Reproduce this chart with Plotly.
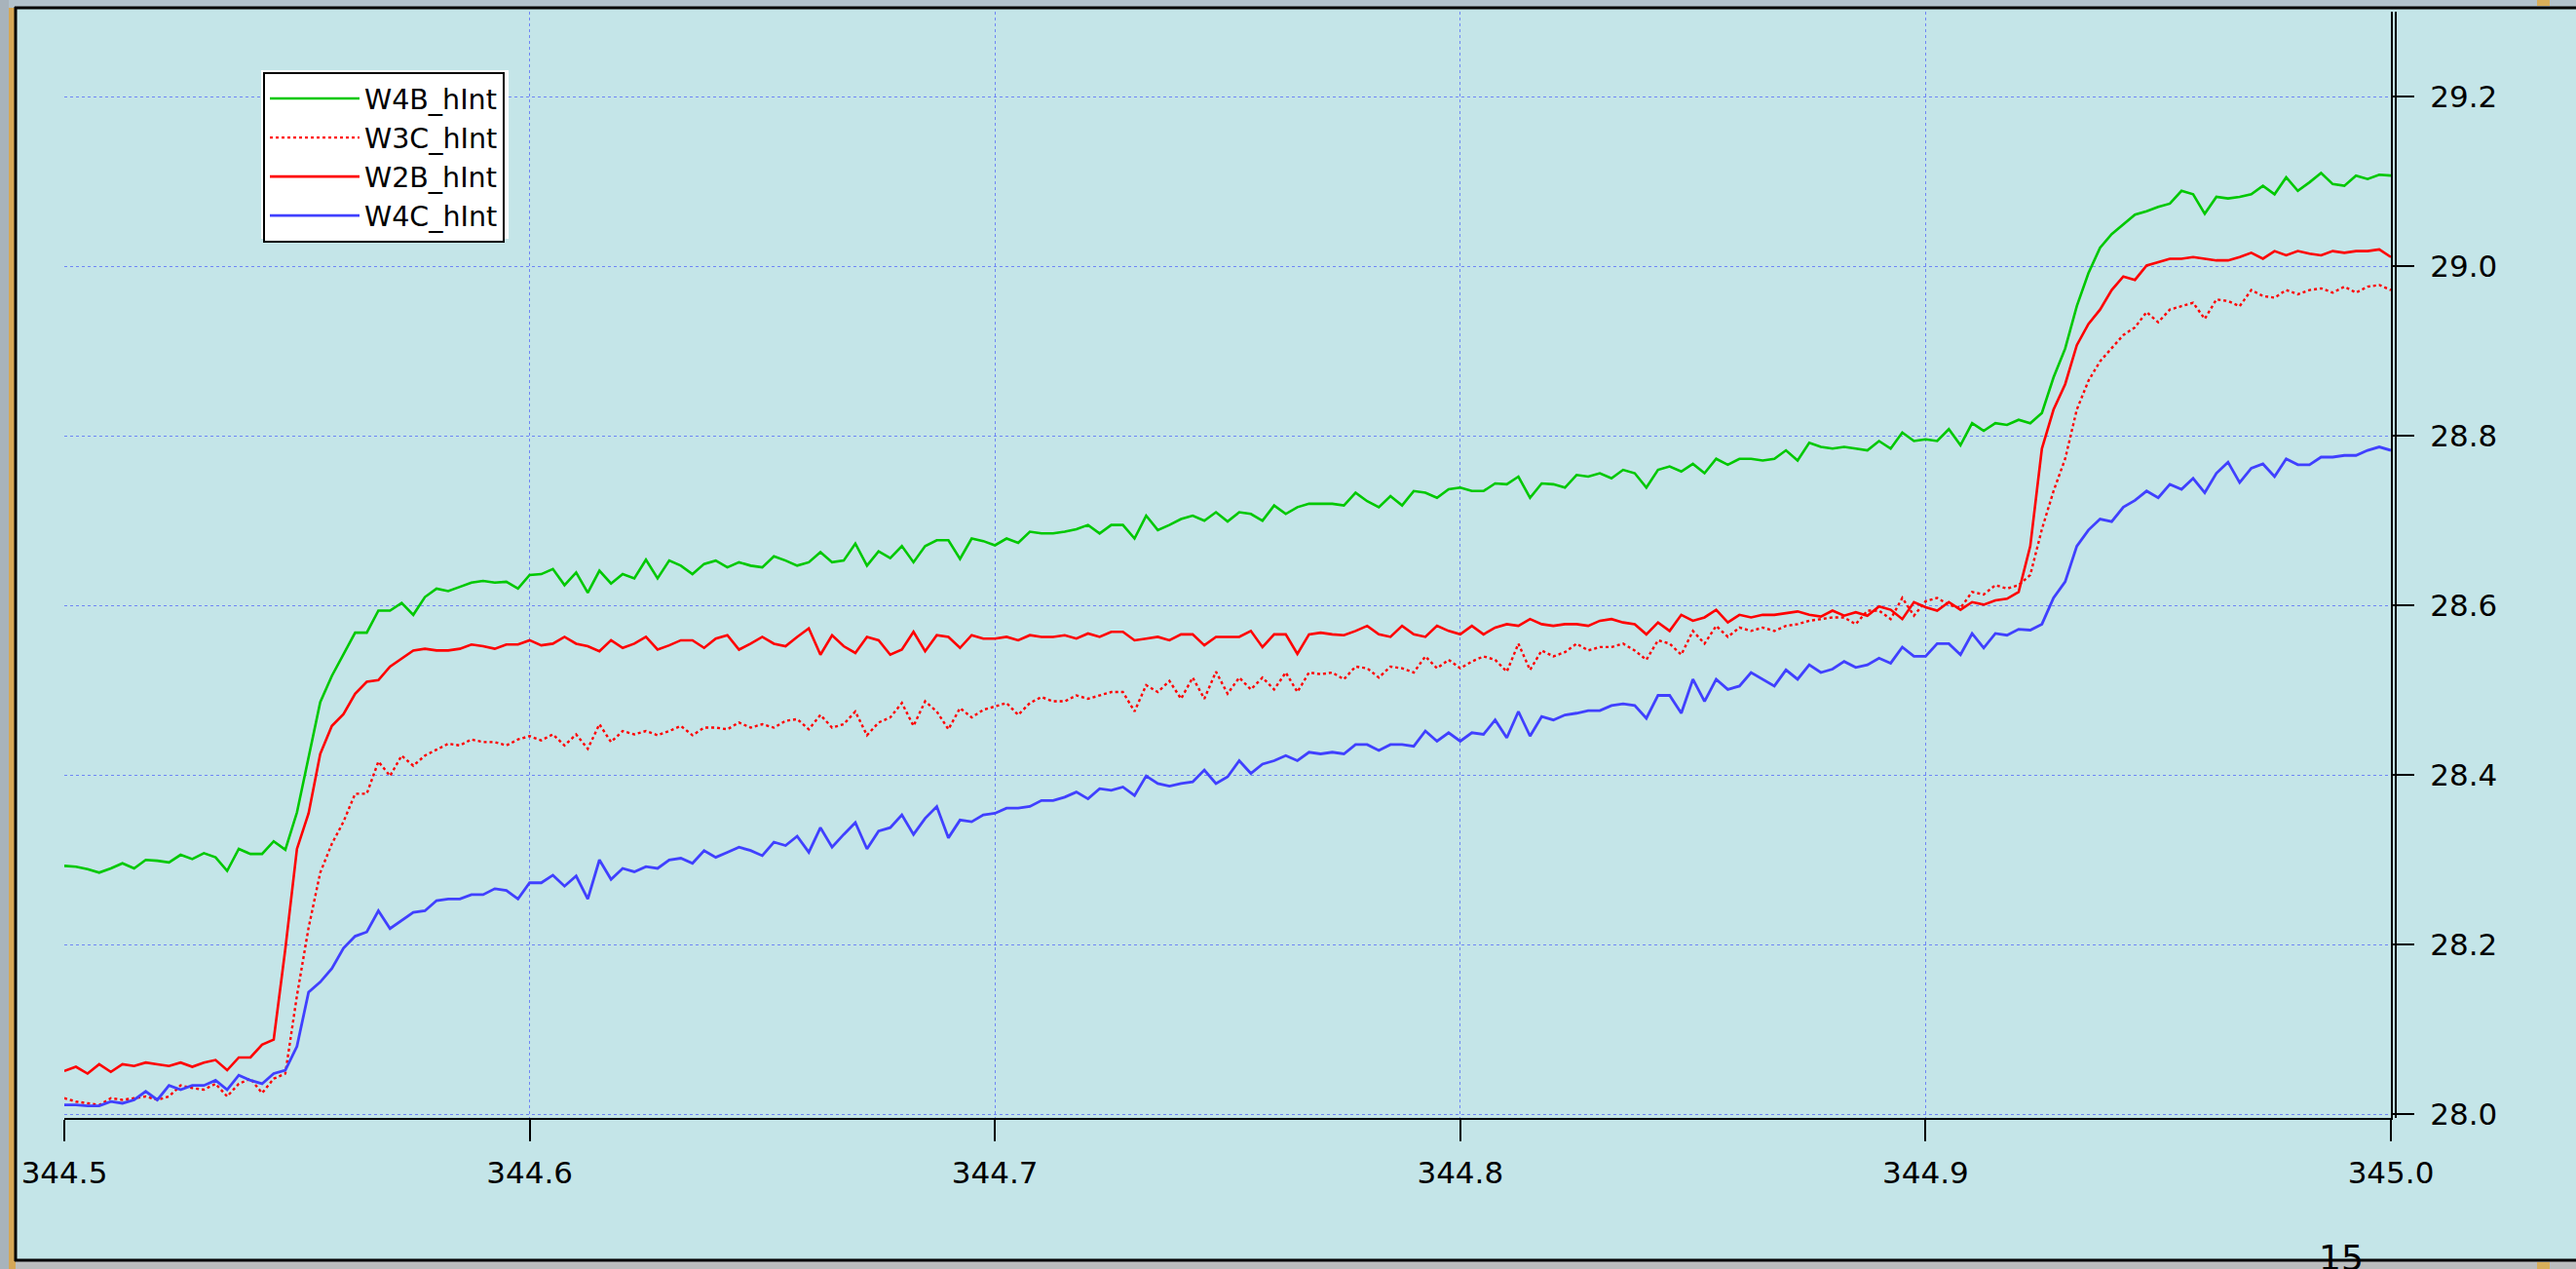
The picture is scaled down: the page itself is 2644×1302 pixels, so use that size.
import plotly.graph_objects as go

# ---- sample times (uniform 0.0025 spacing, 344.5 .. 345.0) ----
T_START = 344.5
T_STEP = 0.0025
N_SAMPLES = 201
t = [round(T_START + T_STEP * i, 4) for i in range(N_SAMPLES)]

# ---- hInt readings for each channel ----
w4b_hint = [
    28.293, 28.292, 28.289, 28.285, 28.290, 28.296, 28.290, 28.300, 28.299, 28.297,
    28.306, 28.301, 28.308, 28.303, 28.287, 28.313, 28.307, 28.307, 28.322, 28.312,
    28.356, 28.421, 28.486, 28.517, 28.542, 28.568, 28.568, 28.594, 28.594, 28.603,
    28.589, 28.610, 28.620, 28.617, 28.622, 28.627, 28.629, 28.627, 28.628, 28.620,
    28.636,
    28.637, 28.643, 28.624, 28.639, 28.615, 28.641, 28.626, 28.637, 28.632, 28.654,
    28.632, 28.653, 28.647, 28.637, 28.649, 28.653, 28.645, 28.651, 28.647, 28.645,
    28.658, 28.653, 28.647, 28.651, 28.663, 28.651, 28.653, 28.673, 28.647, 28.664,
    28.656, 28.670, 28.651, 28.670, 28.677, 28.677, 28.655, 28.679, 28.676, 28.671,
    28.679, 28.674, 28.687, 28.685, 28.685, 28.687, 28.690, 28.695, 28.685, 28.695,
    28.695, 28.679, 28.706,
    28.689, 28.695, 28.702, 28.706, 28.700, 28.710, 28.699, 28.710, 28.708, 28.700,
    28.718, 28.708, 28.716, 28.720, 28.720, 28.720, 28.718, 28.733, 28.723, 28.716,
    28.729, 28.718, 28.735, 28.733, 28.727, 28.737, 28.739, 28.735, 28.735, 28.744,
    28.743, 28.752, 28.727, 28.744, 28.743, 28.739, 28.754, 28.752, 28.756, 28.750,
    28.760, 28.756, 28.739, 28.760, 28.764, 28.758, 28.767, 28.756, 28.773, 28.766,
    28.773, 28.773, 28.771, 28.773, 28.783, 28.771, 28.792, 28.787,
    28.785, 28.787, 28.785, 28.783, 28.794, 28.785, 28.804, 28.794,
    28.796, 28.794, 28.808, 28.789, 28.815, 28.806, 28.815, 28.813, 28.819, 28.815,
    28.827,
    28.869, 28.903, 28.953, 28.992, 29.022, 29.038, 29.049, 29.061, 29.065, 29.070,
    29.074, 29.089, 29.085, 29.062, 29.082, 29.080, 29.082, 29.085, 29.095, 29.085,
    29.105, 29.089, 29.099, 29.110, 29.097, 29.095, 29.107, 29.103, 29.108, 29.107,
]

w3c_hint = [
    28.019, 28.015, 28.013, 28.011, 28.019, 28.017, 28.019, 28.021, 28.017, 28.021,
    28.034, 28.031, 28.029, 28.036, 28.021, 28.036, 28.042, 28.025, 28.042, 28.048,
    28.140, 28.220, 28.285, 28.319, 28.345, 28.378, 28.378, 28.416, 28.399, 28.423,
    28.411, 28.423, 28.430, 28.437, 28.435, 28.442, 28.439, 28.439, 28.435, 28.442,
    28.446,
    28.441, 28.448, 28.435, 28.448, 28.431, 28.460, 28.439, 28.452, 28.448, 28.452,
    28.447, 28.452, 28.458, 28.447, 28.456, 28.456, 28.454, 28.462, 28.456, 28.460,
    28.456, 28.464, 28.466, 28.454, 28.471, 28.456, 28.460, 28.475, 28.447, 28.462,
    28.468, 28.485, 28.458, 28.487, 28.475, 28.454, 28.479, 28.468, 28.477, 28.481,
    28.485, 28.471, 28.485, 28.492, 28.487, 28.487, 28.494, 28.490, 28.494, 28.498,
    28.498, 28.475, 28.506,
    28.498, 28.511, 28.490, 28.515, 28.490, 28.522, 28.496, 28.515, 28.501, 28.515,
    28.501, 28.521, 28.498, 28.521, 28.519, 28.521, 28.513, 28.528, 28.526, 28.515,
    28.528, 28.526, 28.521, 28.540, 28.526, 28.536, 28.526, 28.534, 28.540, 28.536,
    28.522, 28.555, 28.524, 28.547, 28.540, 28.545, 28.555, 28.547, 28.551, 28.551,
    28.555, 28.547, 28.536, 28.559, 28.555, 28.542, 28.570, 28.555, 28.576, 28.563,
    28.574, 28.570, 28.574, 28.570, 28.576, 28.578, 28.582, 28.584,
    28.586, 28.586, 28.578, 28.594, 28.594, 28.584, 28.609, 28.588, 28.605, 28.609,
    28.601, 28.597, 28.616, 28.613, 28.624, 28.620, 28.624, 28.636,
    28.690, 28.735, 28.773, 28.831, 28.865, 28.888, 28.903, 28.919, 28.928, 28.946,
    28.934, 28.949, 28.953, 28.957, 28.938, 28.961, 28.959, 28.953, 28.972, 28.965,
    28.963, 28.972, 28.967, 28.972, 28.974, 28.969, 28.976, 28.969, 28.976, 28.978,
    28.972,
]

w2b_hint = [
    28.051, 28.056, 28.048, 28.059, 28.050, 28.059, 28.057, 28.061, 28.059, 28.057,
    28.061, 28.056, 28.061, 28.064, 28.052, 28.067, 28.067, 28.082, 28.088, 28.195,
    28.313, 28.355, 28.425, 28.458, 28.472, 28.496, 28.510, 28.512, 28.528, 28.538,
    28.547, 28.549, 28.547, 28.547, 28.549, 28.554, 28.552, 28.549, 28.554, 28.554,
    28.559,
    28.553, 28.555, 28.563, 28.555, 28.552, 28.546, 28.559, 28.550, 28.555, 28.563,
    28.548, 28.553, 28.559, 28.559, 28.550, 28.561, 28.565, 28.548, 28.555, 28.563,
    28.555, 28.552, 28.563, 28.573, 28.542, 28.565, 28.552, 28.544, 28.563, 28.559,
    28.542, 28.548, 28.569, 28.546, 28.565, 28.563, 28.550, 28.565, 28.561, 28.561,
    28.563, 28.559, 28.565, 28.563, 28.563, 28.565, 28.561, 28.567, 28.563, 28.569,
    28.569, 28.559, 28.561,
    28.563, 28.559, 28.566, 28.566, 28.553, 28.563, 28.563, 28.563, 28.570, 28.551,
    28.566, 28.566, 28.543, 28.566, 28.568, 28.566, 28.565, 28.570, 28.576, 28.566,
    28.563, 28.576, 28.566, 28.563, 28.576, 28.570, 28.566, 28.576, 28.566, 28.574,
    28.578, 28.576, 28.584, 28.578, 28.576, 28.578, 28.578, 28.576, 28.582, 28.584,
    28.580, 28.578, 28.566, 28.580, 28.570, 28.589, 28.582, 28.586, 28.595, 28.580,
    28.589, 28.586, 28.589, 28.589, 28.591, 28.593, 28.589, 28.587,
    28.594, 28.588, 28.592, 28.588, 28.599, 28.595, 28.584, 28.604, 28.598, 28.594,
    28.604, 28.595, 28.604, 28.601, 28.606, 28.608, 28.616, 28.670,
    28.785, 28.831, 28.861, 28.907, 28.932, 28.949, 28.972, 28.988, 28.984, 29.001,
    29.005, 29.009, 29.009, 29.011, 29.009, 29.007, 29.007, 29.011, 29.016, 29.009,
    29.018, 29.013, 29.018, 29.015, 29.013, 29.018, 29.016, 29.018, 29.018, 29.020,
    29.011,
]

w4c_hint = [
    28.011, 28.011, 28.010, 28.010, 28.015, 28.013, 28.017, 28.027, 28.017, 28.034,
    28.029, 28.034, 28.034, 28.040, 28.029, 28.046, 28.040, 28.036, 28.048, 28.052,
    28.080, 28.144, 28.156, 28.172, 28.196, 28.210, 28.215, 28.240, 28.219, 28.229,
    28.238, 28.240, 28.252, 28.254, 28.254, 28.259, 28.259, 28.266, 28.264, 28.254,
    28.273,
    28.273, 28.282, 28.269, 28.281, 28.254, 28.300, 28.277, 28.290, 28.286, 28.292,
    28.290, 28.300, 28.302, 28.296, 28.311, 28.303, 28.309, 28.315, 28.311, 28.305,
    28.321, 28.317, 28.328, 28.309, 28.338, 28.315, 28.330, 28.344, 28.313, 28.334,
    28.338, 28.353, 28.330, 28.349, 28.363, 28.326, 28.347, 28.345, 28.353, 28.355,
    28.361, 28.361, 28.363, 28.370, 28.370, 28.374, 28.380, 28.372, 28.384, 28.382,
    28.386, 28.376, 28.399,
    28.390, 28.387, 28.390, 28.392, 28.406, 28.390, 28.398, 28.417, 28.402, 28.413,
    28.417, 28.423, 28.417, 28.427, 28.425, 28.427, 28.425, 28.436, 28.436, 28.429,
    28.436, 28.436, 28.434, 28.452, 28.440, 28.450, 28.440, 28.450, 28.448, 28.465,
    28.444, 28.475, 28.446, 28.469, 28.465, 28.471, 28.473, 28.476, 28.476, 28.482,
    28.484, 28.482, 28.467, 28.494, 28.494, 28.473, 28.513, 28.487, 28.513, 28.501,
    28.505, 28.521, 28.513, 28.505, 28.524, 28.513, 28.530, 28.521,
    28.525, 28.534, 28.527, 28.530, 28.538, 28.532, 28.551, 28.540, 28.540, 28.555,
    28.555, 28.542, 28.567, 28.550, 28.567, 28.565, 28.572, 28.571,
    28.578, 28.609, 28.628, 28.670, 28.689, 28.702, 28.699, 28.716, 28.724, 28.735,
    28.727, 28.743, 28.737, 28.750, 28.733, 28.756, 28.769, 28.745, 28.762, 28.767,
    28.752, 28.773, 28.766, 28.766, 28.775, 28.775, 28.777, 28.777, 28.783, 28.787,
    28.783,
]

x_ticks = [344.5, 344.6, 344.7, 344.8, 344.9, 345.0]
y_ticks = [28.0, 28.2, 28.4, 28.6, 28.8, 29.0, 29.2]

# ---- page geometry (pixels) ----
W, H = 2644, 1302
ML, MR, MT, MB = 66, 190, 12, 155
PW, PH = W - ML - MR, H - MT - MB


def px(x):
    """pixel column -> paper x"""
    return (x - ML) / PW


def py(y):
    """pixel row -> paper y"""
    return (H - MB - y) / PH


BG = "#C4E5E8"
GRID = "#6F86F5"
FONT = "DejaVu Sans"

fig = go.Figure()
series = [
    ("W4B_hInt", w4b_hint, "#00C800", "solid", 2.6),
    ("W3C_hInt", w3c_hint, "#FF0000", "dot", 2.4),
    ("W2B_hInt", w2b_hint, "#FF0000", "solid", 2.6),
    ("W4C_hInt", w4c_hint, "#4040FF", "solid", 2.8),
]
for name, vals, color, dash, lw in series:
    fig.add_trace(go.Scatter(
        x=t, y=vals, name=name, mode="lines",
        line=dict(color=color, width=lw, dash=dash),
    ))

shapes = []


def rect(x0, y0, x1, y1, color):
    shapes.append(dict(type="rect", xref="paper", yref="paper",
                       x0=px(x0), x1=px(x1), y0=py(y1), y1=py(y0),
                       fillcolor=color, line=dict(width=0), layer="above"))


def hline(y, x0, x1, w=3, color="black"):
    shapes.append(dict(type="line", xref="paper", yref="paper",
                       x0=px(x0), x1=px(x1), y0=py(y), y1=py(y),
                       line=dict(color=color, width=w), layer="above"))


def vline(x, y0, y1, w=3, color="black"):
    shapes.append(dict(type="line", xref="paper", yref="paper",
                       x0=px(x), x1=px(x), y0=py(y0), y1=py(y1),
                       line=dict(color=color, width=w), layer="above"))


# window surroundings
rect(0, 0, W, 8, "#B2C2CC")
rect(0, 0, 9, H, "#A8B3BB")
rect(9, 8, 16, H, "#D5A756")
rect(16, 1293, W, H, "#BBBDBE")
rect(2604, 0, 2617, 6, "#D8AE5A")
rect(2604, 1295, 2617, H, "#D8AE5A")
# window frame
hline(8, 15, W)
vline(16, 7, 1294)
hline(1293, 15, W)
# second line of the doubled right axis
vline(2459, 12, H - MB, w=2)
# white halo around the legend
rect(268, 72, 522, 245, "white")

fig.update_layout(
    width=W, height=H,
    margin=dict(l=ML, r=MR, t=MT, b=MB, pad=0),
    paper_bgcolor=BG, plot_bgcolor=BG,
    showlegend=True,
    legend=dict(
        x=px(270), y=py(74), xanchor="left", yanchor="top",
        bgcolor="white", bordercolor="black", borderwidth=2,
        font=dict(family=FONT, size=28.5, color="black"),
        itemwidth=92, tracegroupgap=0,
    ),
    shapes=shapes,
    annotations=[dict(
        text="15", xref="paper", yref="paper", x=px(2403), y=py(1268),
        xanchor="center", yanchor="top", showarrow=False,
        font=dict(family=FONT, size=36, color="black"),
    )],
)

fig.update_xaxes(
    range=[344.5, 345.0], tickvals=x_ticks, tickformat=".1f",
    showgrid=True, gridcolor=GRID, gridwidth=1, griddash="dot",
    zeroline=False, showline=True, linecolor="black", linewidth=2,
    ticks="outside", ticklen=22, tickwidth=2, tickcolor="black",
    ticklabelstandoff=6,
    tickfont=dict(family=FONT, size=31, color="black"),
)
fig.update_yaxes(
    range=[27.9957, 29.3003], side="right", tickvals=y_ticks, tickformat=".1f",
    showgrid=True, gridcolor=GRID, gridwidth=1, griddash="dot",
    zeroline=False, showline=True, linecolor="black", linewidth=2,
    ticks="outside", ticklen=22, tickwidth=2, tickcolor="black",
    ticklabelstandoff=10,
    tickfont=dict(family=FONT, size=31, color="black"),
)

fig.write_html("out.html")
